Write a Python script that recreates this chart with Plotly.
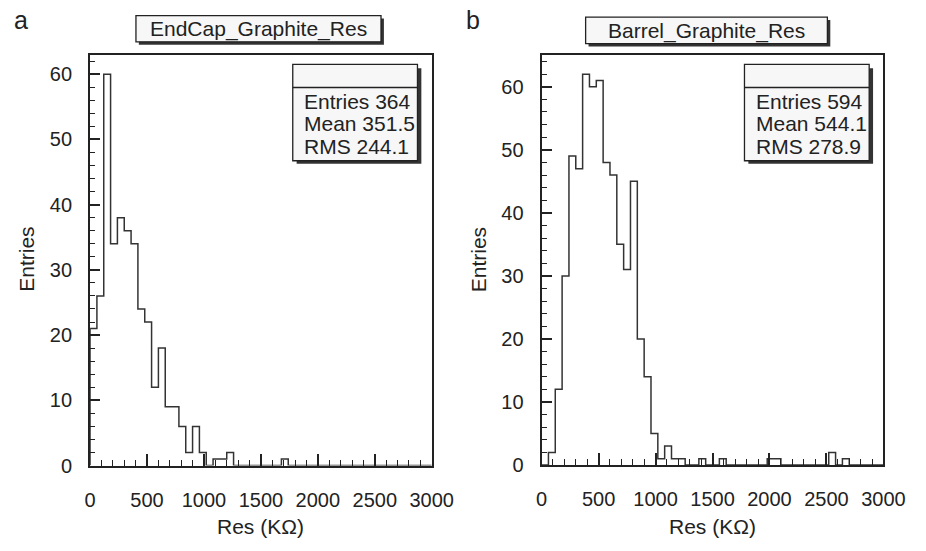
import plotly.graph_objects as go

# ---------------- data ----------------
bin_width = 60
x_max = 3000
x_ticks = [0, 500, 1000, 1500, 2000, 2500, 3000]

endcap_counts = [21, 26, 60, 34, 38, 36, 34, 24, 22, 12,
                 18, 9, 9, 6, 2, 6, 2, 0, 1, 1,
                 2, 0, 0, 0, 0, 0, 0, 0, 1, 0,
                 0, 0, 0, 0, 0, 0, 0, 0, 0, 0,
                 0, 0, 0, 0, 0, 0, 0, 0, 0, 0]

barrel_counts = [0, 2, 12, 30, 49, 47, 62, 60, 61, 48,
                 46, 35, 31, 45, 20, 14, 5, 1, 3, 1,
                 1, 0, 0, 1, 0, 0, 1, 0, 0, 0,
                 0, 0, 0, 1, 1, 0, 0, 0, 0, 0,
                 0, 0, 2, 0, 1, 0, 0, 0, 0, 0]

titles = ["EndCap_Graphite_Res", "Barrel_Graphite_Res"]
stats = [["Entries 364", "Mean 351.5", "RMS 244.1"],
         ["Entries 594", "Mean 544.1", "RMS 278.9"]]
panel_labels = ["a", "b"]
x_title = "Res (KΩ)"
y_title = "Entries"

# ---------------- helpers ----------------
W, H = 926, 551
FONT = "Liberation Sans, Arial, Helvetica, sans-serif"
INK = "#222222"


def fx(p):
    return p / W


def fy(p):
    return 1 - p / H


def step_xy(counts):
    xs, ys = [0], [0]
    for i, c in enumerate(counts):
        xs.append(i * bin_width)
        ys.append(c)
    xs += [x_max, x_max]
    ys += [counts[-1], 0]
    return xs, ys


fig = go.Figure()
for k, counts in enumerate([endcap_counts, barrel_counts]):
    xs, ys = step_xy(counts)
    sfx = "" if k == 0 else "2"
    fig.add_trace(go.Scatter(x=xs, y=ys, mode="lines", line_shape="hv",
                             line=dict(color="#333333", width=1.5),
                             xaxis="x" + sfx, yaxis="y" + sfx,
                             showlegend=False, hoverinfo="skip"))

panels = [
    dict(x0=86.7, x1=439.0, ytop=55.7, ybot=475.0, ymax=1.05 * max(endcap_counts)),
    dict(x0=552.3, x1=904.8, ytop=55.7, ybot=474.5, ymax=1.05 * max(barrel_counts)),
]

layout = dict(width=W, height=H, margin=dict(l=0, r=0, t=0, b=0),
              paper_bgcolor="white", plot_bgcolor="white",
              font=dict(family=FONT, color=INK), showlegend=False)

for k, p in enumerate(panels):
    sfx = "" if k == 0 else "2"
    layout["xaxis" + sfx] = dict(
        domain=[fx(p["x0"]), fx(p["x1"])], range=[0, x_max], anchor="y" + sfx,
        tickvals=x_ticks, ticks="inside", ticklen=12, tickwidth=1.5, tickcolor=INK,
        minor=dict(ticks="inside", ticklen=6, tickwidth=1.2, dtick=100, tickcolor=INK, showgrid=False),
        showline=True, mirror=True, linewidth=2, linecolor=INK,
        showgrid=False, zeroline=False, tickfont=dict(size=20, family=FONT, color=INK),
        ticklabelstandoff=15, fixedrange=True)
    layout["yaxis" + sfx] = dict(
        domain=[fy(p["ybot"]), fy(p["ytop"])], range=[0, p["ymax"]], anchor="x" + sfx,
        dtick=10, ticks="inside", ticklen=10, tickwidth=1.5, tickcolor=INK,
        minor=dict(ticks="inside", ticklen=5, tickwidth=1.2, dtick=2, tickcolor=INK, showgrid=False),
        showline=True, mirror=True, linewidth=2, linecolor=INK,
        showgrid=False, zeroline=False, tickfont=dict(size=20, family=FONT, color=INK),
        ticklabelstandoff=12, fixedrange=True)

fig.update_layout(**layout)

shapes = []
annotations = []


def rect(x0, y0, x1, y1, fill, line_w=0, line_c=INK):
    shapes.append(dict(type="rect", xref="paper", yref="paper",
                       x0=fx(x0), x1=fx(x1), y0=fy(y1), y1=fy(y0),
                       fillcolor=fill, line=dict(width=line_w, color=line_c), layer="above"))


def text(x, y, s, size, xanchor="center"):
    annotations.append(dict(xref="paper", yref="paper", x=fx(x), y=fy(y), text=s,
                            showarrow=False, xanchor=xanchor, yanchor="middle",
                            font=dict(size=size, family=FONT, color=INK)))


title_boxes = [(134.0, 16.0, 386.7, 42.7), (597.7, 17.5, 847.0, 44.5)]
for k, p in enumerate(panels):
    # title box with shadow
    bx0, by0, bx1, by1 = title_boxes[k]
    rect(bx0 + 3, by0 + 3, bx1 + 3, by1 + 3, "#333333")
    rect(bx0, by0, bx1, by1, "#f7f7f7", 1.3)
    text((bx0 + bx1) / 2, (by0 + by1) / 2 + 0.5, titles[k], 21)

    # stats box with shadow
    sx1 = p["x1"] - 14.7
    sx0 = sx1 - 128.6
    sy0, sy1 = 65.7, 164.0
    rect(sx0 + 4, sy0 + 4, sx1 + 4, sy1 + 3, "#333333")
    rect(sx0, sy0, sx1, sy1, "#f7f7f7", 1.3)
    shapes.append(dict(type="line", xref="paper", yref="paper",
                       x0=fx(sx0), x1=fx(sx1), y0=fy(89.3), y1=fy(89.3),
                       line=dict(width=1.3, color=INK), layer="above"))
    for j, s in enumerate(stats[k]):
        text(sx0 + 10, 103.5 + 23.0 * j, s, 21, xanchor="left")

    # axis titles
    text((p["x0"] + p["x1"]) / 2, 537, x_title, 21)
    annotations.append(dict(xref="paper", yref="paper", x=fx(p["x0"] - 65), y=fy(265),
                            text=y_title, showarrow=False, textangle=-90,
                            xanchor="center", yanchor="middle",
                            font=dict(size=21, family=FONT, color=INK)))

    # panel label
    text(p["x0"] - 71, 20, panel_labels[k], 25)

fig.update_layout(shapes=shapes, annotations=annotations)
fig.write_html("out.html")
